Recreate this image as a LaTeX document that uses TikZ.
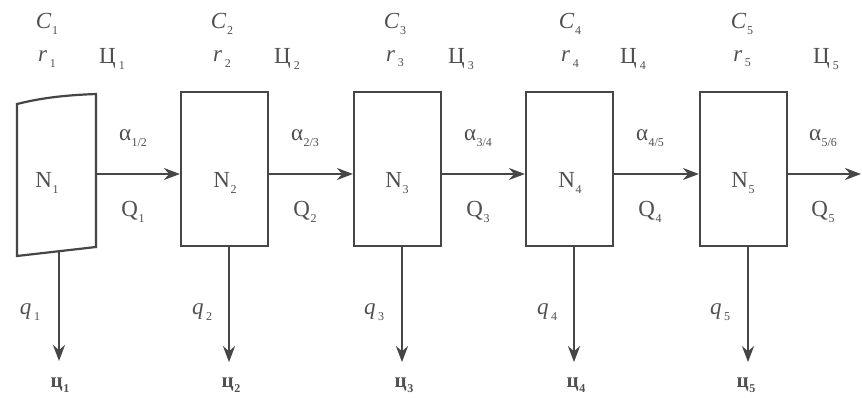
\documentclass[tikz,border=0pt]{standalone}
\usepackage{fontspec}
\setmainfont{Liberation Serif}
\usetikzlibrary{arrows.meta}
\definecolor{ink}{HTML}{464646}
\definecolor{txt}{HTML}{505050}
% a symbol with a lowered subscript
\newcommand\sbs[2]{#1\kern0.5pt\raisebox{-0.5ex}{\fontsize{12}{12}\selectfont #2}}
\tikzset{
  stagebox/.style={draw=ink, line width=2.2pt, minimum width=87pt, minimum height=154pt, inner sep=0pt},
  flow/.style={draw=ink, line width=2.2pt, -{Stealth[length=16pt,width=12pt]}},
  lbl/.style={text=txt, font=\fontsize{23}{23}\selectfont, inner sep=0pt},
}
\begin{document}
\begin{tikzpicture}[x=1pt,y=-1pt]
\useasboundingbox (0,0) rectangle (862,398);
\fill[white] (0,0) rectangle (862,398);

% first (skewed) stage
\draw[ink, line width=2.2pt] (17,104) .. controls (45,97) and (70,95) .. (96,94)
  -- (96,247) -- (17,256) -- cycle;
\coordinate (b1r) at (96,174);
\coordinate (b1b) at (59,251);
\node[lbl] (n1) at (47,183) {\sbs{N}{1}};

% remaining stages
\node[stagebox] (b2) at (224.5,169) {};
\node[stagebox] (b3) at (397.5,169) {};
\node[stagebox] (b4) at (569.5,169) {};
\node[stagebox] (b5) at (743.5,169) {};
\node[lbl] (n2) at (225,183) {\sbs{N}{2}};
\node[lbl] (n3) at (397,183) {\sbs{N}{3}};
\node[lbl] (n4) at (570,183) {\sbs{N}{4}};
\node[lbl] (n5) at (743,183) {\sbs{N}{5}};

\coordinate (ay) at (0,174);
\coordinate (out) at (861,174);

% flows between stages
\draw[flow] (b1r) -- (b2.west |- ay);
\draw[flow] (b2.east |- ay) -- (b3.west |- ay);
\draw[flow] (b3.east |- ay) -- (b4.west |- ay);
\draw[flow] (b4.east |- ay) -- (b5.west |- ay);
\draw[flow] (b5.east |- ay) -- (out);

% outflows downward
\coordinate (d1) at (59,361);
\draw[flow] (b1b) -- (d1);
\foreach \b in {2,3,4,5}{
  \draw[flow] ([xshift=4.5pt]b\b.south) -- ++(0,115) coordinate (d\b);
}

% labels above the stages
\foreach \i/\x/\z in {1/47/112, 2/222/287, 3/395/461, 4/570/633, 5/742/826}{
  \node[lbl] (c\i) at (\x,24) {\sbs{\textit{C}}{\i}};
  \node[lbl] (r\i) at (\x,59) {\sbs{\textit{r}}{\,\i}};
  \node[lbl] (z\i) at (\z,59) {\sbs{Ц\kern2.5pt}{\i}};
}
% labels of the flows
\foreach \i/\j/\x in {1/2/133, 2/3/305, 3/4/478, 4/5/650, 5/6/823}{
  \node[lbl] (a\i) at (\x,138) {\sbs{α}{\i/\j}};
  \node[lbl] (q\i) at (\x,212) {\sbs{Q}{\i}};
}
\foreach \i/\x in {1/30, 2/202, 3/374, 4/547, 5/720}{
  \node[lbl] (qq\i) at (\x,312) {\sbs{\textit{q}}{\,\i}};
}
\foreach \i/\x in {1/60, 2/231, 3/404, 4/576, 5/746}{
  \node[lbl, font=\fontsize{21}{21}\selectfont\bfseries] (u\i) at (\x,385) {\sbs{ц}{\i}};
}
\end{tikzpicture}
\end{document}
